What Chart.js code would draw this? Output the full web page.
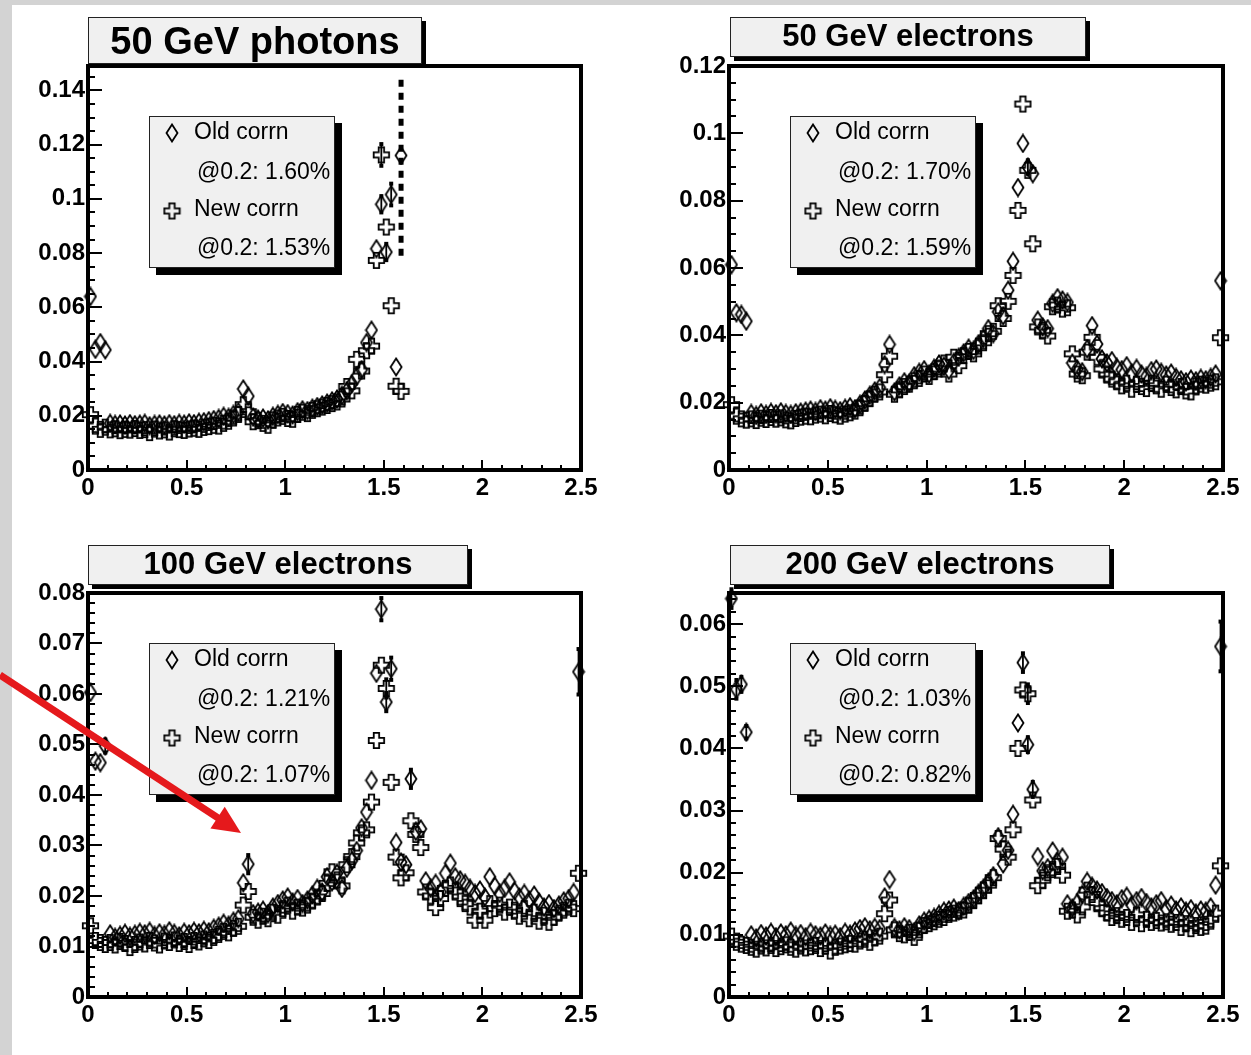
<!DOCTYPE html>
<html>
<head>
<meta charset="utf-8">
<script src="https://cdn.jsdelivr.net/npm/chart.js@4.4.0/dist/chart.umd.min.js"></script>
<style>
  html, body { margin: 0; padding: 0; background: #fff; }
  #page { position: relative; width: 1251px; height: 1055px; overflow: hidden; background: #fff; }
  .strip-left { position: absolute; left: 0; top: 0; width: 12px; height: 1055px; background: #d3d3d3; }
  .strip-top { position: absolute; left: 0; top: 0; width: 1251px; height: 5px; background: #d3d3d3; }
  canvas { position: absolute; }
</style>
</head>
<body>
<div id="page">
  <div class="strip-left"></div>
  <div class="strip-top"></div>
  <canvas id="c1" style="left:0;top:0" width="625" height="527"></canvas>
  <canvas id="c2" style="left:625px;top:0" width="626" height="527"></canvas>
  <canvas id="c3" style="left:0;top:527px" width="625" height="528"></canvas>
  <canvas id="c4" style="left:625px;top:527px" width="626" height="528"></canvas>
</div>
<script>
// eta bin centres (100 bins of 0.025)
const etaBins = [
  0.0125, 0.0375, 0.0625, 0.0875, 0.1125, 0.1375, 0.1625, 0.1875, 0.2125, 0.2375,
  0.2625, 0.2875, 0.3125, 0.3375, 0.3625, 0.3875, 0.4125, 0.4375, 0.4625, 0.4875,
  0.5125, 0.5375, 0.5625, 0.5875, 0.6125, 0.6375, 0.6625, 0.6875, 0.7125, 0.7375,
  0.7625, 0.7875, 0.8125, 0.8375, 0.8625, 0.8875, 0.9125, 0.9375, 0.9625, 0.9875,
  1.0125, 1.0375, 1.0625, 1.0875, 1.1125, 1.1375, 1.1625, 1.1875, 1.2125, 1.2375,
  1.2625, 1.2875, 1.3125, 1.3375, 1.3625, 1.3875, 1.4125, 1.4375, 1.4625, 1.4875,
  1.5125, 1.5375, 1.5625, 1.5875, 1.6125, 1.6375, 1.6625, 1.6875, 1.7125, 1.7375,
  1.7625, 1.7875, 1.8125, 1.8375, 1.8625, 1.8875, 1.9125, 1.9375, 1.9625, 1.9875,
  2.0125, 2.0375, 2.0625, 2.0875, 2.1125, 2.1375, 2.1625, 2.1875, 2.2125, 2.2375,
  2.2625, 2.2875, 2.3125, 2.3375, 2.3625, 2.3875, 2.4125, 2.4375, 2.4625, 2.4875
];

const xTickLabels = ['0', '0.5', '1', '1.5', '2', '2.5'];
const yTicks50Photon = ['0', '0.02', '0.04', '0.06', '0.08', '0.1', '0.12', '0.14'];
const yTicks50Elec = ['0', '0.02', '0.04', '0.06', '0.08', '0.1', '0.12'];
const yTicks100Elec = ['0', '0.01', '0.02', '0.03', '0.04', '0.05', '0.06', '0.07', '0.08'];
const yTicks200Elec = ['0', '0.01', '0.02', '0.03', '0.04', '0.05', '0.06'];

// 50 GeV photons (only up to eta 1.6)
const old50Photon = [
  0.0640, 0.0445, 0.0470, 0.0443, 0.0172, 0.0168, 0.0170, 0.0166, 0.0171, 0.0167,
  0.0169, 0.0172, 0.0163, 0.0168, 0.0170, 0.0166, 0.0171, 0.0167, 0.0172, 0.0169,
  0.0174, 0.0171, 0.0176, 0.0178, 0.0182, 0.0186, 0.0190, 0.0198, 0.0194, 0.0205,
  0.0215, 0.0299, 0.0272, 0.0195, 0.0188, 0.0192, 0.0185, 0.0198, 0.0205, 0.0212,
  0.0208, 0.0203, 0.0215, 0.0222, 0.0219, 0.0228, 0.0234, 0.0240, 0.0247, 0.0255,
  0.0262, 0.0275, 0.0292, 0.0318, 0.0345, 0.0370, 0.0470, 0.0516, 0.0816, 0.0980,
  0.0804, 0.1016, 0.0380, 0.1160
];
const new50Photon = [
  0.0204, 0.0162, 0.0150, 0.0158, 0.0148, 0.0152, 0.0145, 0.0150, 0.0147, 0.0153,
  0.0146, 0.0149, 0.0138, 0.0151, 0.0144, 0.0148, 0.0140, 0.0152, 0.0149, 0.0146,
  0.0151, 0.0154, 0.0150, 0.0157, 0.0160, 0.0165, 0.0162, 0.0172, 0.0180, 0.0192,
  0.0205, 0.0241, 0.0215, 0.0178, 0.0182, 0.0172, 0.0165, 0.0185, 0.0192, 0.0198,
  0.0190, 0.0187, 0.0205, 0.0213, 0.0208, 0.0220, 0.0226, 0.0232, 0.0238, 0.0245,
  0.0251, 0.0262, 0.0308, 0.0292, 0.0408, 0.0365, 0.0440, 0.0457, 0.0773, 0.1162,
  0.0896, 0.0606, 0.0309, 0.0290
];

const old50Elec = [
  0.0610, 0.0467, 0.0462, 0.0442, 0.0168, 0.0162, 0.0170, 0.0165, 0.0171, 0.0167,
  0.0173, 0.0168, 0.0165, 0.0170, 0.0172, 0.0175, 0.0178, 0.0174, 0.0182, 0.0178,
  0.0185, 0.0180, 0.0176, 0.0183, 0.0188, 0.0182, 0.0195, 0.0208, 0.0222, 0.0235,
  0.0245, 0.0313, 0.0373, 0.0232, 0.0250, 0.0262, 0.0258, 0.0280, 0.0290, 0.0298,
  0.0285, 0.0302, 0.0315, 0.0308, 0.0296, 0.0320, 0.0335, 0.0348, 0.0362, 0.0355,
  0.0375, 0.0390, 0.0420, 0.0405, 0.0470, 0.0458, 0.0534, 0.0620, 0.0839, 0.0970,
  0.0900, 0.0880, 0.0445, 0.0425, 0.0420, 0.0495, 0.0512, 0.0505, 0.0498, 0.0318,
  0.0300, 0.0292, 0.0360, 0.0429, 0.0374, 0.0330, 0.0318, 0.0325, 0.0305, 0.0298,
  0.0310, 0.0288, 0.0302, 0.0285, 0.0278, 0.0295, 0.0300, 0.0290, 0.0282, 0.0288,
  0.0275, 0.0268, 0.0262, 0.0270, 0.0265, 0.0272, 0.0268, 0.0275, 0.0285, 0.0562
];
const new50Elec = [
  0.0194, 0.0160, 0.0152, 0.0148, 0.0152, 0.0147, 0.0154, 0.0150, 0.0156, 0.0151,
  0.0155, 0.0149, 0.0146, 0.0153, 0.0157, 0.0160, 0.0158, 0.0163, 0.0166, 0.0161,
  0.0168, 0.0164, 0.0160, 0.0166, 0.0170, 0.0175, 0.0185, 0.0198, 0.0212, 0.0225,
  0.0232, 0.0283, 0.0338, 0.0225, 0.0238, 0.0248, 0.0255, 0.0265, 0.0272, 0.0285,
  0.0278, 0.0292, 0.0300, 0.0318, 0.0285, 0.0335, 0.0310, 0.0340, 0.0352, 0.0345,
  0.0368, 0.0378, 0.0405, 0.0412, 0.0488, 0.0450, 0.0501, 0.0578, 0.0771, 0.1087,
  0.0890, 0.0672, 0.0425, 0.0415, 0.0398, 0.0485, 0.0490, 0.0478, 0.0482, 0.0345,
  0.0285, 0.0280, 0.0350, 0.0394, 0.0335, 0.0300, 0.0282, 0.0270, 0.0262, 0.0250,
  0.0258, 0.0240, 0.0255, 0.0248, 0.0242, 0.0258, 0.0250, 0.0240, 0.0255, 0.0245,
  0.0238, 0.0248, 0.0235, 0.0232, 0.0250, 0.0255, 0.0252, 0.0258, 0.0262, 0.0393
];

const old100Elec = [
  0.0603, 0.0467, 0.0464, 0.0497, 0.0125, 0.0118, 0.0122, 0.0126, 0.0120, 0.0124,
  0.0128, 0.0125, 0.0130, 0.0122, 0.0127, 0.0124, 0.0131, 0.0126, 0.0121, 0.0128,
  0.0125, 0.0130, 0.0127, 0.0132, 0.0129, 0.0136, 0.0140, 0.0146, 0.0142, 0.0150,
  0.0155, 0.0226, 0.0263, 0.0165, 0.0168, 0.0172, 0.0165, 0.0178, 0.0185, 0.0192,
  0.0198, 0.0188, 0.0195, 0.0185, 0.0192, 0.0202, 0.0215, 0.0208, 0.0238, 0.0228,
  0.0245, 0.0215, 0.0255, 0.0270, 0.0290, 0.0335, 0.0366, 0.0429, 0.0641, 0.0768,
  0.0584, 0.0650, 0.0306, 0.0267, 0.0262, 0.0432, 0.0328, 0.0333, 0.0230, 0.0215,
  0.0225, 0.0208, 0.0245, 0.0265, 0.0238, 0.0232, 0.0225, 0.0215, 0.0205, 0.0212,
  0.0198, 0.0238, 0.0220, 0.0205, 0.0215, 0.0228, 0.0210, 0.0198, 0.0205, 0.0192,
  0.0202, 0.0188, 0.0178, 0.0185, 0.0175, 0.0182, 0.0190, 0.0195, 0.0207, 0.0644
];
const new100Elec = [
  0.0141, 0.0112, 0.0108, 0.0104, 0.0108, 0.0103, 0.0110, 0.0106, 0.0098, 0.0104,
  0.0109, 0.0105, 0.0112, 0.0107, 0.0103, 0.0111, 0.0108, 0.0113, 0.0106, 0.0110,
  0.0104, 0.0112, 0.0109, 0.0115, 0.0112, 0.0118, 0.0124, 0.0130, 0.0127, 0.0136,
  0.0140, 0.0182, 0.0209, 0.0158, 0.0152, 0.0160, 0.0155, 0.0168, 0.0162, 0.0175,
  0.0182, 0.0170, 0.0178, 0.0176, 0.0182, 0.0190, 0.0198, 0.0205, 0.0225, 0.0248,
  0.0232, 0.0220, 0.0262, 0.0278, 0.0305, 0.0325, 0.0331, 0.0386, 0.0508, 0.0657,
  0.0611, 0.0425, 0.0277, 0.0236, 0.0246, 0.0349, 0.0322, 0.0296, 0.0208, 0.0200,
  0.0177, 0.0195, 0.0215, 0.0222, 0.0210, 0.0198, 0.0185, 0.0178, 0.0152, 0.0170,
  0.0152, 0.0185, 0.0175, 0.0182, 0.0168, 0.0178, 0.0172, 0.0160, 0.0175, 0.0155,
  0.0168, 0.0150, 0.0162, 0.0148, 0.0158, 0.0166, 0.0172, 0.0178, 0.0175, 0.0245
];

const old200Elec = [
  0.0641, 0.0495, 0.0503, 0.0426, 0.0100, 0.0095, 0.0102, 0.0098, 0.0104, 0.0097,
  0.0103, 0.0100, 0.0106, 0.0099, 0.0102, 0.0097, 0.0104, 0.0100, 0.0098, 0.0103,
  0.0099, 0.0101, 0.0097, 0.0104, 0.0101, 0.0106, 0.0110, 0.0113, 0.0108, 0.0112,
  0.0110, 0.0161, 0.0189, 0.0112, 0.0108, 0.0113, 0.0110, 0.0105, 0.0116, 0.0122,
  0.0125, 0.0128, 0.0133, 0.0138, 0.0140, 0.0143, 0.0139, 0.0146, 0.0152, 0.0158,
  0.0167, 0.0175, 0.0185, 0.0195, 0.0258, 0.0214, 0.0236, 0.0294, 0.0441, 0.0538,
  0.0406, 0.0334, 0.0226, 0.0203, 0.0208, 0.0235, 0.0218, 0.0225, 0.0150, 0.0143,
  0.0152, 0.0165, 0.0186, 0.0178, 0.0172, 0.0168, 0.0160, 0.0155, 0.0150, 0.0158,
  0.0162, 0.0148, 0.0155, 0.0160, 0.0152, 0.0145, 0.0150, 0.0155, 0.0142, 0.0148,
  0.0140, 0.0145, 0.0138, 0.0142, 0.0135, 0.0140, 0.0138, 0.0145, 0.0180, 0.0564
];
const new200Elec = [
  0.0098, 0.0088, 0.0085, 0.0083, 0.0080, 0.0077, 0.0082, 0.0079, 0.0083, 0.0078,
  0.0081, 0.0084, 0.0080, 0.0077, 0.0082, 0.0079, 0.0081, 0.0083, 0.0078, 0.0082,
  0.0074, 0.0080, 0.0082, 0.0084, 0.0086, 0.0085, 0.0090, 0.0093, 0.0088, 0.0095,
  0.0098, 0.0134, 0.0156, 0.0108, 0.0102, 0.0100, 0.0104, 0.0096, 0.0108, 0.0115,
  0.0118, 0.0121, 0.0125, 0.0128, 0.0133, 0.0135, 0.0138, 0.0140, 0.0148, 0.0155,
  0.0163, 0.0172, 0.0180, 0.0192, 0.0255, 0.0238, 0.0225, 0.0269, 0.0400, 0.0494,
  0.0488, 0.0317, 0.0179, 0.0188, 0.0200, 0.0205, 0.0210, 0.0196, 0.0138, 0.0140,
  0.0132, 0.0145, 0.0172, 0.0165, 0.0152, 0.0142, 0.0135, 0.0128, 0.0131, 0.0125,
  0.0128, 0.0120, 0.0132, 0.0118, 0.0125, 0.0120, 0.0123, 0.0119, 0.0121, 0.0117,
  0.0120, 0.0112, 0.0118, 0.0110, 0.0115, 0.0112, 0.0114, 0.0125, 0.0135, 0.0211
];

// error bars: [bin index, half width]
const errOld50Photon = [[59, 0.003], [60, 0.003], [61, 0.004]];
const errNew50Photon = [[59, 0.004]];
const photonCrackBar = [1.5875, 0.079, 0.1455]; // eta, low, high (dotted)
const errOld50Elec = [[60, 0.002]];
const errNew50Elec = [];
const errOld100Elec = [[3, 0.0013], [32, 0.0018], [59, 0.0022], [60, 0.0018], [61, 0.0022], [65, 0.0018], [99, 0.0045]];
const errNew100Elec = [[60, 0.0018]];
const errOld200Elec = [[0, 0.0015], [1, 0.0015], [2, 0.0012], [3, 0.0010], [59, 0.0015], [60, 0.0012], [61, 0.0012], [99, 0.0040]];
const errNew200Elec = [[60, 0.0015]];

const FONT = '"Liberation Sans", Arial, Helvetica, sans-serif';

function diamondMarker() {
  const c = document.createElement('canvas');
  c.width = 14; c.height = 20;
  const g = c.getContext('2d');
  g.strokeStyle = '#000';
  g.lineWidth = 1.8;
  g.beginPath();
  g.moveTo(7, 1.5); g.lineTo(12.5, 10); g.lineTo(7, 18.5); g.lineTo(1.5, 10);
  g.closePath();
  g.stroke();
  return c;
}

function crossMarker() {
  const c = document.createElement('canvas');
  c.width = 19; c.height = 19;
  const g = c.getContext('2d');
  const m = 9.5, s = 7.7, a = 2.7;
  const pts = [[-a, -s], [a, -s], [a, -a], [s, -a], [s, a], [a, a], [a, s], [-a, s], [-a, a], [-s, a], [-s, -a], [-a, -a]];
  g.strokeStyle = '#000';
  g.lineWidth = 1.8;
  g.beginPath();
  pts.forEach(([px, py], i) => i ? g.lineTo(m + px, m + py) : g.moveTo(m + px, m + py));
  g.closePath();
  g.stroke();
  return c;
}

const diamondImg = diamondMarker();
const crossImg = crossMarker();

const panels = [
  { id: 'c1', title: '50 GeV photons', titleSize: 38, titleBox: [88, 17, 334, 47], titleTextY: 44,
    yMax: 0.149, yTicks: yTicks50Photon, yMinor: 0.005, old: old50Photon, neu: new50Photon,
    oldRes: '@0.2: 1.60%', newRes: '@0.2: 1.53%', errOld: errOld50Photon, errNew: errNew50Photon,
    yAxisW: 88, padRight: 44, xAxisH: 57, crack: photonCrackBar },
  { id: 'c2', title: '50 GeV electrons', titleSize: 31, titleBox: [105, 17, 356, 40], titleTextY: 37,
    yMax: 0.12, yTicks: yTicks50Elec, yMinor: 0.005, old: old50Elec, neu: new50Elec,
    oldRes: '@0.2: 1.70%', newRes: '@0.2: 1.59%', errOld: errOld50Elec, errNew: errNew50Elec,
    yAxisW: 104, padRight: 28, xAxisH: 57 },
  { id: 'c3', title: '100 GeV electrons', titleSize: 31, titleBox: [88, 18, 380, 40], titleTextY: 38,
    yMax: 0.08, yTicks: yTicks100Elec, yMinor: 0.002, old: old100Elec, neu: new100Elec,
    oldRes: '@0.2: 1.21%', newRes: '@0.2: 1.07%', errOld: errOld100Elec, errNew: errNew100Elec,
    yAxisW: 88, padRight: 44, xAxisH: 58, arrow: true },
  { id: 'c4', title: '200 GeV electrons', titleSize: 31, titleBox: [105, 18, 380, 40], titleTextY: 38,
    yMax: 0.065, yTicks: yTicks200Elec, yMinor: 0.002, old: old200Elec, neu: new200Elec,
    oldRes: '@0.2: 1.03%', newRes: '@0.2: 0.82%', errOld: errOld200Elec, errNew: errNew200Elec,
    yAxisW: 104, padRight: 28, xAxisH: 58 }
];

function toPoints(values) {
  const pts = [];
  values.forEach((v, i) => { if (v != null) pts.push({ x: etaBins[i], y: v }); });
  return pts;
}

function makePlugin(p) {
  return {
    id: 'rootPad',
    beforeDatasetsDraw(chart) {
      const { ctx, chartArea: a, scales: { x, y } } = chart;
      ctx.save();
      ctx.strokeStyle = '#000';
      // frame
      ctx.lineWidth = 4;
      ctx.strokeRect(a.left, a.top, a.right - a.left, a.bottom - a.top);
      // inward ticks
      ctx.lineWidth = 2;
      ctx.beginPath();
      for (let v = 0; v <= p.yMax + 1e-9; v += p.yMinor) {
        const py = Math.round(y.getPixelForValue(v));
        const major = p.yTicks.some(t => Math.abs(parseFloat(t) - v) < 1e-6);
        ctx.moveTo(a.left, py);
        ctx.lineTo(a.left + (major ? 14 : 7), py);
      }
      for (let v = 0; v <= 2.5 + 1e-9; v += 0.1) {
        const px = Math.round(x.getPixelForValue(v));
        const major = Math.abs(v * 2 - Math.round(v * 2)) < 1e-6;
        ctx.moveTo(px, a.bottom);
        ctx.lineTo(px, a.bottom - (major ? 10 : 5));
      }
      ctx.stroke();
      // error bars
      const bars = (list, vals) => list.forEach(([bin, e]) => {
        const px = x.getPixelForValue(etaBins[bin]);
        const y1 = y.getPixelForValue(vals[bin] - e), y2 = y.getPixelForValue(vals[bin] + e);
        ctx.lineWidth = 1.8;
        ctx.beginPath();
        ctx.moveTo(px, y1); ctx.lineTo(px, y2);
        ctx.stroke();
        ctx.fillStyle = '#000';
        ctx.fillRect(px - 2, y1 - 2, 4, 4);
        ctx.fillRect(px - 2, y2 - 2, 4, 4);
      });
      bars(p.errOld, p.old);
      bars(p.errNew, p.neu);
      ctx.restore();
    },
    afterDraw(chart) {
      const { ctx, chartArea: a } = chart;
      ctx.save();
      // title box
      const [tx, ty, tw, th] = p.titleBox;
      ctx.fillStyle = '#000';
      ctx.fillRect(tx + 4, ty + 4, tw, th);
      ctx.fillStyle = '#f0f0f0';
      ctx.fillRect(tx, ty, tw, th);
      ctx.strokeStyle = '#222';
      ctx.lineWidth = 1;
      ctx.strokeRect(tx + 0.5, ty + 0.5, tw - 1, th - 1);
      ctx.fillStyle = '#000';
      ctx.font = 'bold ' + p.titleSize + 'px ' + FONT;
      ctx.textAlign = 'center';
      ctx.textBaseline = 'middle';
      ctx.fillText(p.title, tx + tw / 2, p.titleTextY);

      // legend box
      const lx = a.left + 61, ly = 116, lw = 186, lh = 152;
      ctx.fillStyle = '#000';
      ctx.fillRect(lx + 7, ly + 7, lw, lh);
      ctx.fillStyle = '#f0f0f0';
      ctx.fillRect(lx, ly, lw, lh);
      ctx.strokeStyle = '#222';
      ctx.strokeRect(lx + 0.5, ly + 0.5, lw - 1, lh - 1);
      ctx.drawImage(diamondImg, lx + 23 - diamondImg.width / 2, ly + 17 - diamondImg.height / 2);
      ctx.drawImage(crossImg, lx + 23 - crossImg.width / 2, ly + 95 - crossImg.height / 2);
      ctx.fillStyle = '#000';
      ctx.font = '23px ' + FONT;
      ctx.textAlign = 'left';
      ctx.fillText('Old corrn', lx + 45, ly + 17);
      ctx.fillText(p.oldRes, lx + 48, ly + 57);
      ctx.fillText('New corrn', lx + 45, ly + 94);
      ctx.fillText(p.newRes, lx + 48, ly + 133);

      // red annotation arrow
      if (p.arrow) {
        const sx = 0, sy = 148, ex = 241, ey = 306;
        const ang = Math.atan2(ey - sy, ex - sx);
        const hl = 28, hw = 13;
        const bx = ex - hl * Math.cos(ang), by = ey - hl * Math.sin(ang);
        ctx.strokeStyle = '#e5191c';
        ctx.fillStyle = '#e5191c';
        ctx.lineWidth = 7;
        ctx.beginPath();
        ctx.moveTo(sx, sy);
        ctx.lineTo(bx + 2 * Math.cos(ang), by + 2 * Math.sin(ang));
        ctx.stroke();
        ctx.beginPath();
        ctx.moveTo(ex, ey);
        ctx.lineTo(bx - hw * Math.sin(ang), by + hw * Math.cos(ang));
        ctx.lineTo(bx + hw * Math.sin(ang), by - hw * Math.cos(ang));
        ctx.closePath();
        ctx.fill();
      }
      ctx.restore();
    }
  };
}

function makeChart(p) {
  const datasets = [
    { label: 'Old corrn', data: toPoints(p.old), pointStyle: diamondImg, pointRadius: 6, clip: false },
    { label: 'New corrn', data: toPoints(p.neu), pointStyle: crossImg, pointRadius: 6, clip: false }
  ];
  if (p.crack) {
    datasets.push({
      type: 'line', label: 'crack',
      data: [{ x: p.crack[0], y: p.crack[1] }, { x: p.crack[0], y: p.crack[2] }],
      borderColor: '#000', borderWidth: 5, borderDash: [7, 6], pointRadius: 0, clip: false
    });
  }
  const tickFont = { family: FONT, size: 24, weight: 'bold' };
  new Chart(document.getElementById(p.id), {
    type: 'scatter',
    data: { datasets },
    options: {
      responsive: false,
      animation: false,
      layout: { padding: { left: 0, right: p.padRight, top: 66, bottom: 0 } },
      plugins: { legend: { display: false }, tooltip: { enabled: false } },
      scales: {
        x: {
          type: 'linear', min: 0, max: 2.5,
          grid: { display: false, drawTicks: false },
          border: { display: false },
          afterBuildTicks: ax => { ax.ticks = xTickLabels.map(l => ({ value: parseFloat(l) })); },
          afterFit: ax => { ax.height = p.xAxisH; ax.paddingLeft = 0; ax.paddingRight = 0; },
          ticks: { callback: (v, i) => xTickLabels[i], font: tickFont, color: '#000', padding: 4, maxRotation: 0, autoSkip: false }
        },
        y: {
          type: 'linear', min: 0, max: p.yMax,
          grid: { display: false, drawTicks: false },
          border: { display: false },
          afterBuildTicks: ax => { ax.ticks = p.yTicks.map(l => ({ value: parseFloat(l) })); },
          afterFit: ax => { ax.width = p.yAxisW; ax.paddingTop = 0; ax.paddingBottom = 0; },
          ticks: { callback: (v, i) => p.yTicks[i], font: tickFont, color: '#000', padding: 3, autoSkip: false }
        }
      }
    },
    plugins: [makePlugin(p)]
  });
}

panels.forEach(makeChart);
</script>
</body>
</html>
